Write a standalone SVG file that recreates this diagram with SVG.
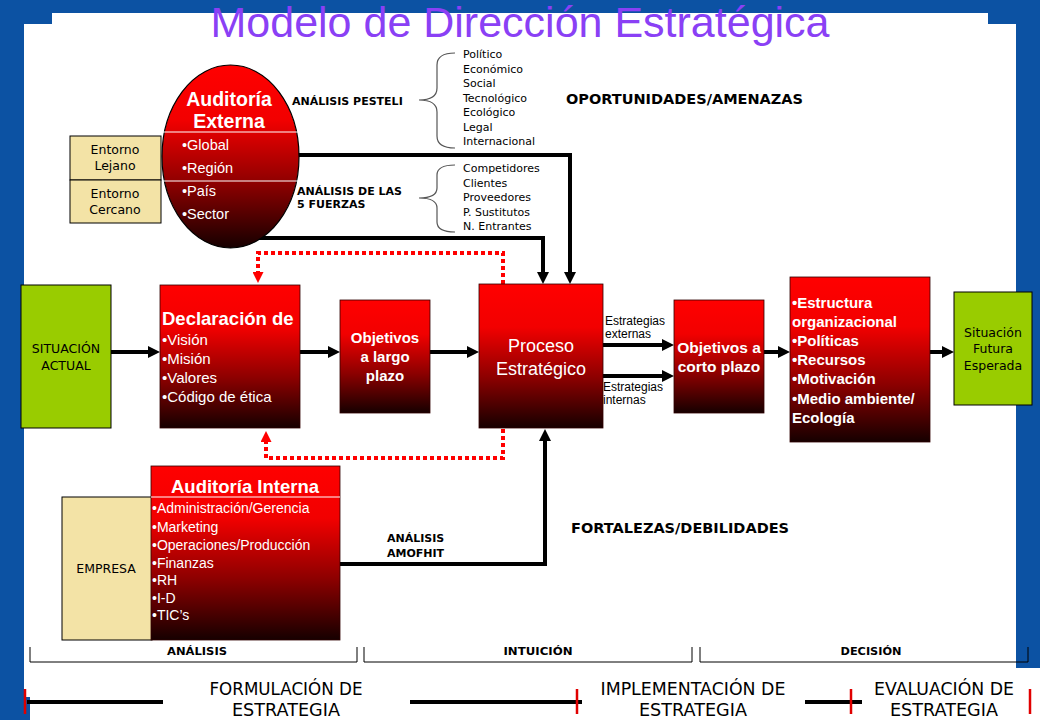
<svg xmlns="http://www.w3.org/2000/svg" width="1040" height="720" viewBox="0 0 1040 720">
<defs>
<linearGradient id="gRed" x1="0" y1="0" x2="0" y2="1">
<stop offset="0" stop-color="#ff0000"/>
<stop offset="0.3" stop-color="#f20000"/>
<stop offset="0.65" stop-color="#8c0000"/>
<stop offset="1" stop-color="#160000"/>
</linearGradient>
<marker id="ab" markerUnits="userSpaceOnUse" markerWidth="12" markerHeight="12" refX="1" refY="6" orient="auto">
<path d="M0,0 L12,6 L0,12 Z" fill="#000"/>
</marker>
<marker id="ar" markerUnits="userSpaceOnUse" markerWidth="11" markerHeight="11" refX="1" refY="5.5" orient="auto">
<path d="M0,0 L11,5.5 L0,11 Z" fill="#ff0000"/>
</marker>
</defs>
<style>
.red{fill:url(#gRed);stroke:#300000;stroke-width:0.8}
.grn{fill:#99cc00;stroke:#000;stroke-width:1}
.yel{fill:#f3e3a6;stroke:#000;stroke-width:1}
.conn{fill:none;stroke:#000;stroke-width:4;marker-end:url(#ab)}
.dash{fill:none;stroke:#ff0000;stroke-width:4;stroke-dasharray:4 3;marker-end:url(#ar)}
.brace{fill:none;stroke:#555;stroke-width:1.2}
.w{fill:#fff;font-family:"Liberation Sans",Arial,sans-serif}
.wb{fill:#fff;font-family:"Liberation Sans",Arial,sans-serif;font-weight:bold}
.t{fill:#000;font-family:"DejaVu Sans",sans-serif}
.tb{fill:#000;font-family:"DejaVu Sans",sans-serif;font-weight:bold}
.sm{fill:#000;font-family:"DejaVu Sans",sans-serif;font-size:11px}
.ls{fill:#000;font-family:"Liberation Sans",Arial,sans-serif;font-size:12px}
</style>

<!-- frame -->
<rect x="0" y="0" width="1040" height="720" fill="#0c52a3"/>
<path d="M52,13 H988 V24 H1016 V668 H1040 V720 H30 V697 H24 V24 H52 Z" fill="#fff"/>

<text x="520" y="37" text-anchor="middle" font-family="Liberation Sans, Arial, sans-serif" font-size="43" fill="#8a40f5">Modelo de Dirección Estratégica</text>

<!-- connectors -->
<g id="connectors">
<path class="conn" d="M230,238 H543 V273"/>
<path class="conn" d="M290,155 H570 V273"/>
<path class="conn" d="M111,352 H149"/>
<path class="conn" d="M300,352 H329"/>
<path class="conn" d="M430,352 H468"/>
<path class="conn" d="M603,345 H663"/>
<path class="conn" d="M603,376 H663"/>
<path class="conn" d="M764,352 H779"/>
<path class="conn" d="M930,352 H943"/>
<path class="conn" d="M340,564 H545 V440"/>
<path class="dash" d="M503,284 V253 H258 V273"/>
<path class="dash" d="M503,429 V458 H266 V441"/>
</g>

<!-- Auditoría externa -->
<g id="entorno-lejano">
<rect class="yel" x="70" y="136" width="91" height="44"/>
<text class="t" font-size="12.5" x="115" y="154" text-anchor="middle">Entorno</text>
<text class="t" font-size="12.5" x="115" y="170" text-anchor="middle">Lejano</text>
</g>
<g id="entorno-cercano">
<rect class="yel" x="70" y="180" width="91" height="43"/>
<text class="t" font-size="12.5" x="115" y="198" text-anchor="middle">Entorno</text>
<text class="t" font-size="12.5" x="115" y="214" text-anchor="middle">Cercano</text>
</g>
<g id="auditoria-externa">
<ellipse cx="230.5" cy="156.5" rx="68.5" ry="91.5" fill="url(#gRed)" stroke="#000" stroke-width="1.2"/>
<line x1="163" y1="132" x2="298" y2="132" stroke="#fff" stroke-width="1.2"/>
<line x1="163" y1="181" x2="298" y2="181" stroke="#fff" stroke-width="1.2"/>
<text class="wb" font-size="19.5" x="229" y="106" text-anchor="middle">Auditoría</text>
<text class="wb" font-size="19.5" x="229" y="128" text-anchor="middle">Externa</text>
<text class="w" font-size="14.5" x="182" y="150">•Global</text>
<text class="w" font-size="14.5" x="182" y="173">•Región</text>
<text class="w" font-size="14.5" x="182" y="196">•País</text>
<text class="w" font-size="14.5" x="182" y="219">•Sector</text>
</g>

<g id="pesteli">
<text class="tb" font-size="11" x="292" y="105">ANÁLISIS PESTELI</text>
<path class="brace" d="M455,53 Q437,53 437,65 L437,88 Q437,100 419,100 Q437,100 437,112 L437,136 Q437,148 455,148"/>
<text class="sm" x="463" y="58">Político</text>
<text class="sm" x="463" y="73">Económico</text>
<text class="sm" x="463" y="87">Social</text>
<text class="sm" x="463" y="102">Tecnológico</text>
<text class="sm" x="463" y="116">Ecológico</text>
<text class="sm" x="463" y="131">Legal</text>
<text class="sm" x="463" y="145">Internacional</text>
</g>
<g id="cinco-fuerzas">
<text class="tb" font-size="11" x="297" y="195">ANÁLISIS DE LAS</text>
<text class="tb" font-size="11" x="297" y="208">5 FUERZAS</text>
<path class="brace" d="M455,165 Q437,165 437,175 L437,188 Q437,198 419,198 Q437,198 437,208 L437,222 Q437,232 455,232"/>
<text class="sm" x="463" y="172">Competidores</text>
<text class="sm" x="463" y="187">Clientes</text>
<text class="sm" x="463" y="201">Proveedores</text>
<text class="sm" x="463" y="216">P. Sustitutos</text>
<text class="sm" x="463" y="230">N. Entrantes</text>
</g>
<text class="tb" font-size="14.5" x="566" y="104">OPORTUNIDADES/AMENAZAS</text>
<text class="tb" font-size="14.5" x="571" y="533">FORTALEZAS/DEBILIDADES</text>

<g id="situacion-actual">
<rect class="grn" x="21" y="285" width="90" height="143"/>
<text class="t" font-size="12.5" x="66" y="353" text-anchor="middle">SITUACIÓN</text>
<text class="t" font-size="12.5" x="66" y="370" text-anchor="middle">ACTUAL</text>
</g>

<g id="declaracion">
<rect class="red" x="160" y="285" width="140" height="143"/>
<text class="wb" font-size="18.5" x="162" y="325">Declaración de</text>
<text class="w" font-size="15" x="162" y="345">•Visión</text>
<text class="w" font-size="15" x="162" y="364">•Misión</text>
<text class="w" font-size="15" x="162" y="383">•Valores</text>
<text class="w" font-size="15" x="162" y="402">•Código de ética</text>
</g>

<g id="objetivos-largo">
<rect class="red" x="340" y="300" width="90" height="113"/>
<text class="wb" font-size="15" x="385" y="343" text-anchor="middle">Objetivos</text>
<text class="wb" font-size="15" x="385" y="362" text-anchor="middle">a largo</text>
<text class="wb" font-size="15" x="385" y="381" text-anchor="middle">plazo</text>
</g>

<g id="proceso">
<rect class="red" x="479" y="284" width="124" height="144"/>
<text class="w" font-size="18" x="541" y="352" text-anchor="middle">Proceso</text>
<text class="w" font-size="18" x="541" y="375" text-anchor="middle">Estratégico</text>
</g>

<g id="estrategias-labels">
<text class="ls" x="605" y="325">Estrategias</text>
<text class="ls" x="605" y="338">externas</text>
<text class="ls" x="603" y="391">Estrategias</text>
<text class="ls" x="603" y="404">internas</text>
</g>

<g id="objetivos-corto">
<rect class="red" x="674" y="300" width="90" height="113"/>
<text class="wb" font-size="15.5" x="719" y="353" text-anchor="middle">Objetivos a</text>
<text class="wb" font-size="15.5" x="719" y="372" text-anchor="middle">corto plazo</text>
</g>

<g id="implementacion">
<rect class="red" x="790" y="277" width="140" height="165"/>
<text class="wb" font-size="15" x="792" y="308">•Estructura</text>
<text class="wb" font-size="15" x="792" y="327">organizacional</text>
<text class="wb" font-size="15" x="792" y="346">•Políticas</text>
<text class="wb" font-size="15" x="792" y="365">•Recursos</text>
<text class="wb" font-size="15" x="792" y="384">•Motivación</text>
<text class="wb" font-size="15" x="792" y="404">•Medio ambiente/</text>
<text class="wb" font-size="15" x="792" y="423">Ecología</text>
</g>

<g id="situacion-futura">
<rect class="grn" x="954" y="292" width="78" height="113"/>
<text class="t" font-size="12.5" x="993" y="337" text-anchor="middle">Situación</text>
<text class="t" font-size="12.5" x="993" y="353" text-anchor="middle">Futura</text>
<text class="t" font-size="12.5" x="993" y="370" text-anchor="middle">Esperada</text>
</g>

<g id="empresa">
<rect class="yel" x="62" y="497" width="90" height="143"/>
<text class="t" font-size="12.5" x="106" y="573" text-anchor="middle">EMPRESA</text>
</g>

<g id="auditoria-interna">
<rect class="red" x="151" y="466" width="189" height="174"/>
<line x1="151" y1="497" x2="340" y2="497" stroke="#fff" stroke-width="1.2"/>
<text class="wb" font-size="18.5" x="245" y="493" text-anchor="middle">Auditoría Interna</text>
<text class="w" font-size="14" x="152" y="513">•Administración/Gerencia</text>
<text class="w" font-size="14" x="152" y="532">•Marketing</text>
<text class="w" font-size="14" x="152" y="550">•Operaciones/Producción</text>
<text class="w" font-size="14" x="152" y="568">•Finanzas</text>
<text class="w" font-size="14" x="152" y="585">•RH</text>
<text class="w" font-size="14" x="152" y="603">•I-D</text>
<text class="w" font-size="14" x="152" y="620">•TIC’s</text>
</g>

<g id="amofhit">
<text class="tb" font-size="11" x="387" y="542">ANÁLISIS</text>
<text class="tb" font-size="11" x="387" y="557">AMOFHIT</text>
</g>

<!-- phase brackets -->
<g id="phases" fill="none" stroke="#000" stroke-width="1">
<path d="M30,647 V662 H357 V647"/>
<path d="M364,647 V662 H692 V647"/>
<path d="M700,647 V662 H1028 V647"/>
</g>
<g id="phase-labels">
<text class="tb" font-size="11" x="197" y="655" text-anchor="middle" textLength="60" lengthAdjust="spacingAndGlyphs">ANÁLISIS</text>
<text class="tb" font-size="11" x="538" y="655" text-anchor="middle" textLength="69" lengthAdjust="spacingAndGlyphs">INTUICIÓN</text>
<text class="tb" font-size="11" x="871" y="655" text-anchor="middle" textLength="61" lengthAdjust="spacingAndGlyphs">DECISIÓN</text>
</g>

<!-- timeline -->
<g id="timeline">
<line x1="27" y1="702" x2="163" y2="702" stroke="#000" stroke-width="4"/>
<line x1="410" y1="702" x2="582" y2="702" stroke="#000" stroke-width="4"/>
<line x1="805" y1="702" x2="862" y2="702" stroke="#000" stroke-width="4"/>
<g stroke="#e00000" stroke-width="2.5">
<line x1="25" y1="689" x2="25" y2="714"/>
<line x1="577" y1="689" x2="577" y2="714"/>
<line x1="851" y1="689" x2="851" y2="714"/>
<line x1="1030" y1="689" x2="1030" y2="714"/>
</g>
<text class="t" font-size="18.5" x="286" y="695" text-anchor="middle" textLength="153" lengthAdjust="spacingAndGlyphs">FORMULACIÓN DE</text>
<text class="t" font-size="18.5" x="286" y="716" text-anchor="middle" textLength="108" lengthAdjust="spacingAndGlyphs">ESTRATEGIA</text>
<text class="t" font-size="18.5" x="693" y="695" text-anchor="middle" textLength="185" lengthAdjust="spacingAndGlyphs">IMPLEMENTACIÓN DE</text>
<text class="t" font-size="18.5" x="693" y="716" text-anchor="middle" textLength="108" lengthAdjust="spacingAndGlyphs">ESTRATEGIA</text>
<text class="t" font-size="18.5" x="944" y="695" text-anchor="middle" textLength="140" lengthAdjust="spacingAndGlyphs">EVALUACIÓN DE</text>
<text class="t" font-size="18.5" x="944" y="716" text-anchor="middle" textLength="108" lengthAdjust="spacingAndGlyphs">ESTRATEGIA</text>
</g>
</svg>
